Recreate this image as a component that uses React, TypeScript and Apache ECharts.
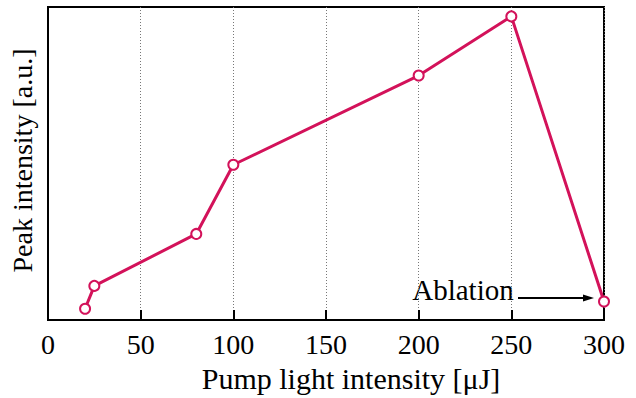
import React, { useEffect, useRef } from "react";
import * as echarts from "echarts";

const pumpEnergy = [20, 25, 80, 100, 200, 250, 300];
const peakIntensity = [3.6, 10.9, 27.5, 49.6, 78.1, 97.0, 5.9];
const xTicks = [0, 50, 100, 150, 200, 250, 300];
const annotationText = "Ablation";
const xName = "Pump light intensity [μJ]";
const yName = "Peak intensity [a.u.]";

const FONT = "Liberation Serif";
const COLOR = "#d3125a";

export default function App() {
  const ref = useRef<HTMLDivElement>(null);
  useEffect(() => {
    if (!ref.current) return;
    const chart = echarts.init(ref.current, undefined, { renderer: "svg" });
    chart.setOption({
      animation: false,
      backgroundColor: "#ffffff",
      textStyle: { fontFamily: FONT },
      grid: {
        left: 48,
        right: 32,
        top: 7,
        bottom: 78,
        show: true,
        borderColor: "#000",
        borderWidth: 2,
      },
      xAxis: {
        type: "value",
        min: xTicks[0],
        max: xTicks[xTicks.length - 1],
        interval: 50,
        name: xName,
        nameLocation: "middle",
        nameGap: 43,
        nameTextStyle: { fontFamily: FONT, fontSize: 30, color: "#000", padding: [0, 0, 0, 50] },
        axisLine: { show: true, lineStyle: { color: "#000", width: 2 } },
        axisTick: { show: true, inside: true, length: 10, lineStyle: { color: "#000", width: 2 } },
        axisLabel: { fontFamily: FONT, fontSize: 28, color: "#000", margin: 10 },
        splitLine: { show: true, lineStyle: { color: "#777", type: [1, 2], width: 1 } },
      },
      yAxis: {
        type: "value",
        min: 0,
        max: 100,
        name: yName,
        nameLocation: "middle",
        nameGap: 12,
        nameTextStyle: { fontFamily: FONT, fontSize: 28, color: "#000", padding: [0, 0, 0, 6] },
        axisLine: { show: true, lineStyle: { color: "#000", width: 2 } },
        axisTick: { show: false },
        axisLabel: { show: false },
        splitLine: { show: false },
      },
      series: [
        {
          type: "line",
          data: pumpEnergy.map((x, i) => [x, peakIntensity[i]]),
          lineStyle: { color: COLOR, width: 3 },
          itemStyle: { color: COLOR, borderColor: COLOR, borderWidth: 2.5 },
          symbol: "emptyCircle",
          symbolSize: 10,
          z: 5,
        },
      ],
      graphic: [
        {
          type: "text",
          x: 463,
          y: 304,
          style: {
            text: annotationText,
            fontFamily: FONT,
            fontSize: 29,
            fill: "#000",
            textAlign: "center",
            textVerticalAlign: "bottom",
          },
        },
        {
          type: "line",
          shape: { x1: 518, y1: 298, x2: 585, y2: 298 },
          style: { stroke: "#000", lineWidth: 2 },
        },
        {
          type: "polygon",
          shape: { points: [[594, 298], [583, 294.5], [583, 301.5]] },
          style: { fill: "#000" },
        },
      ],
    });
    return () => chart.dispose();
  }, []);
  return <div ref={ref} style={{ width: 636, height: 398, position: "absolute", left: 0, top: 0 }} />;
}
